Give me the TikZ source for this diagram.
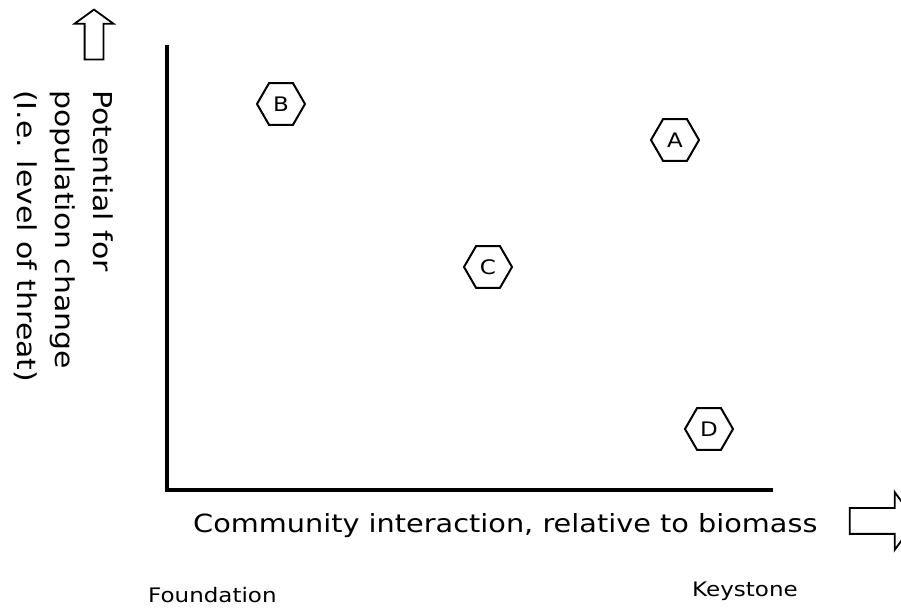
\documentclass[tikz,border=0pt]{standalone}
\usepackage{fontspec}
\usepackage{tikz}
\usetikzlibrary{shapes.geometric, shapes.arrows}
\newfontfamily\plotfont[FakeStretch=1.15]{DejaVu Sans}
\definecolor{PlotInk}{RGB}{0, 0, 0}

\begin{document}
\begin{tikzpicture}[x=1pt, y=1pt,
    sitehex/.style={regular polygon, regular polygon sides=6, draw=PlotInk, line width=2pt,
      minimum size=48pt, inner sep=0pt, font=\plotfont\fontsize{20}{20}\selectfont},
    blockarrow/.style={single arrow, draw=PlotInk, fill=white, line width=1.8pt,
      single arrow tip angle=108}]
    \path[use as bounding box] (0,0) rectangle (901,607);

    % axes
    \coordinate (origin) at (167,117);
    \coordinate (ytop) at (167,562);
    \coordinate (xend) at (773,117);
    \draw[PlotInk, line width=3.5pt] (ytop) -- (origin) -- (xend);

    % block arrows
    \node[blockarrow, inner xsep=8.5pt, inner ysep=0pt, single arrow head extend=10pt,
      minimum height=50pt, shape border rotate=90] (uparrow) at (94,569) {};
    \node[blockarrow, inner xsep=0pt, inner ysep=12pt, single arrow head extend=16pt,
      minimum height=66pt] (rightarrow) at (878,86) {};

    % axis labels
    \node[rotate=-90, anchor=north west, align=left, inner sep=0pt,
      font=\plotfont\fontsize{26}{38}\selectfont] (ylabel) at (113,517)
      {Potential for\\population change\\(I.e. level of threat)};
    \node[anchor=base west, inner sep=0pt, font=\plotfont\fontsize{25}{30}\selectfont]
      (xlabel) at (193,74) {Community interaction, relative to biomass};
    \node[anchor=base west, inner sep=0pt, font=\plotfont\fontsize{20}{24}\selectfont]
      (foundation) at (148,5) {Foundation};
    \node[anchor=base west, inner sep=0pt, font=\plotfont\fontsize{20}{24}\selectfont]
      (keystone) at (692,10) {Keystone};

    % species
    \node[sitehex] (siteA) at (675,467) {A};
    \node[sitehex] (siteB) at (281,503) {B};
    \node[sitehex] (siteC) at (488,340) {C};
    \node[sitehex] (siteD) at (709,178) {D};
  \end{tikzpicture}
\end{document}
